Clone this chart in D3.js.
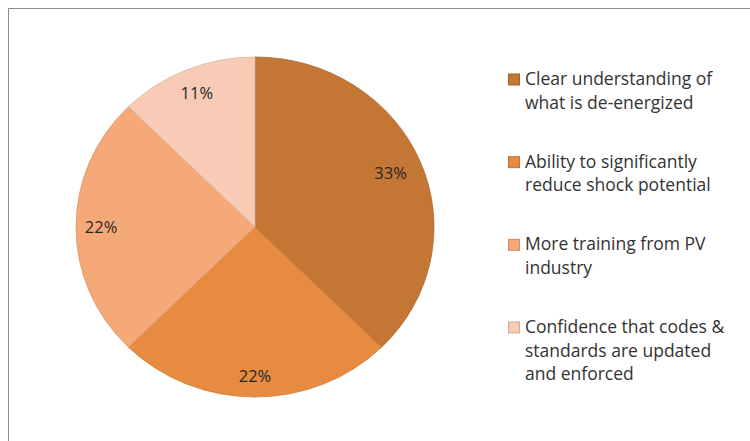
<!DOCTYPE html>
<html>
<head>
<meta charset="utf-8">
<script src="https://cdn.jsdelivr.net/npm/d3@7"></script>
<style>
	body { margin:0; background:#fff; }
	svg text { font-family: "Open Sans", Lato, sans-serif; }
</style>
</head>
<body>
<div id="chart"></div>
<script>
var categories = ["Clear understanding of|what is de-energized",
	"Ability to significantly|reduce shock potential",
	"More training from PV|industry",
	"Confidence that codes &|standards are updated|and enforced"];
var values = [33, 22, 22, 11];
var valueLabels = ["33%", "22%", "22%", "11%"];
var colors = ["#c47634", "#e68b40", "#f5a979", "#f8cbb6"];

var pie = { cx:255, cy:227, rx:179, ry:170, w:750, h:441 };

var svg = d3.select('#chart').append('svg')
			.attr('width', pie.w)
			.attr('height', pie.h);

// frame (only top / left edges visible in the reference)
svg.append('path')
	.attr('d', 'M8.5,' + pie.h + 'V8.5H' + pie.w)
	.attr('fill', 'none')
	.attr('stroke', '#8c8c8c')
	.attr('stroke-width', 1);

var arcs = d3.pie().sort(null).value(d => d)(values);
var arc = d3.arc().innerRadius(0).outerRadius(pie.rx);

var g = svg.append('g')
		.attr('transform', 'translate(' + pie.cx + ',' + pie.cy + ') scale(1,' + (pie.ry / pie.rx) + ')');

g.selectAll('path')
	.data(arcs)
	.enter()
	.append('path')
		.attr('d', arc)
		.attr('fill', (d,i) => colors[i])
		.attr('stroke', (d,i) => d3.color(colors[i]).darker(0.35))
		.attr('stroke-width', 0.8)
		.attr('vector-effect', 'non-scaling-stroke');

// value labels, pushed toward the rim
var labelR = [0.82, 0.88, 0.86, 0.85];
svg.append('g')
	.selectAll('text')
	.data(arcs)
	.enter()
	.append('text')
		.attr('x', (d,i) => {
			var a = (d.startAngle + d.endAngle) / 2;
			return pie.cx + Math.sin(a) * pie.rx * labelR[i];
		})
		.attr('y', (d,i) => {
			var a = (d.startAngle + d.endAngle) / 2;
			return pie.cy - Math.cos(a) * pie.ry * labelR[i];
		})
		.attr('dy', '0.35em')
		.attr('text-anchor', 'middle')
		.attr('font-size', 16.5)
		.attr('fill', '#262626')
		.text((d,i) => valueLabels[i]);

// legend
var legendY = d3.scalePoint().domain(d3.range(categories.length)).range([79, 327]);
var legend = svg.append('g')
		.selectAll('g')
		.data(categories)
		.enter()
		.append('g')
			.attr('transform', (d,i) => 'translate(508,' + legendY(i) + ')');

legend.append('rect')
	.attr('x', 0.5)
	.attr('y', -5)
	.attr('width', 11)
	.attr('height', 11)
	.attr('fill', (d,i) => colors[i])
	.attr('stroke', (d,i) => d3.color(colors[i]).darker(0.5));

legend.append('text')
	.attr('x', 17)
	.attr('font-size', 17.5)
	.attr('fill', '#333')
	.selectAll('tspan')
	.data(d => d.split('|'))
	.enter()
	.append('tspan')
		.attr('x', 17)
		.attr('y', (d,i) => i * 23.5)
		.attr('dy', '0.35em')
		.text(d => d);
</script>
</body>
</html>
